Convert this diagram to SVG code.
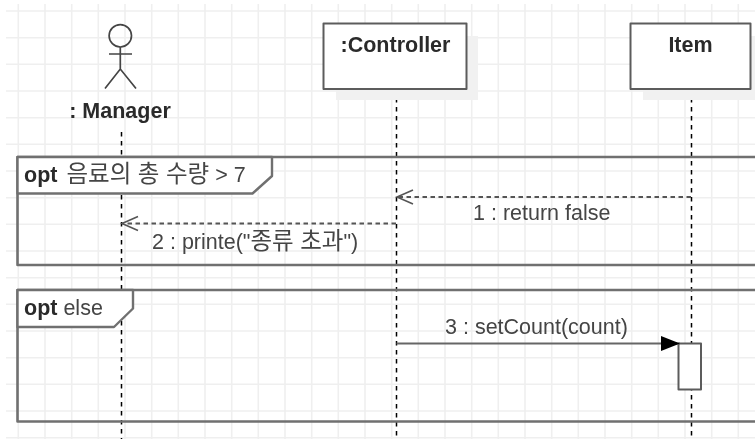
<svg xmlns="http://www.w3.org/2000/svg" width="755" height="439" viewBox="0 0 755 439">
<defs>
<filter id="soft" x="-5%" y="-5%" width="110%" height="110%"><feGaussianBlur stdDeviation="0.42"/></filter>
<marker id="open" markerUnits="userSpaceOnUse" markerWidth="20" markerHeight="18" refX="17" refY="8" orient="auto"><path d="M1 1 L17 8 L1 15" fill="none" stroke="#555" stroke-width="1.6"/></marker>
<marker id="solid" markerUnits="userSpaceOnUse" markerWidth="22" markerHeight="18" refX="20" refY="8" orient="auto"><path d="M1 0.5 L20 8 L1 15.5 Z" fill="#000"/></marker>
</defs>
<style>
text{font-family:"Liberation Sans",Arial,"Noto Sans CJK KR",sans-serif;fill:#444;font-size:21.5px}
.b{font-weight:bold;fill:#2b2b2b}
.k{font-size:23.5px}
.box{fill:#fff;stroke:#5c5c5c;stroke-width:2;stroke-linejoin:round}
.shadow{fill:#f1f1f1}
.frame{fill:none;stroke:#707070;stroke-width:2.6;stroke-linejoin:round}
.tag{fill:#fff;stroke:#707070;stroke-width:2.4;stroke-linejoin:round}
.life{fill:none;stroke:#000;stroke-width:1.5;stroke-dasharray:4.5 4.5}
.ret{fill:none;stroke:#555;stroke-width:2;stroke-dasharray:4.5 3.5}
.call{fill:none;stroke:#666;stroke-width:2}
.stick{fill:none;stroke:#444;stroke-width:1.7}
</style>
<rect width="755" height="439" fill="#fff"/>
<g filter="url(#soft)">
<path id="grid" fill="none" stroke="#efefef" stroke-width="1.6" d="M18.3 4V439M45 4V439M71.7 4V439M98.3 4V439M125 4V439M151.7 4V439M178.3 4V439M205 4V439M231.7 4V439M258.3 4V439M285 4V439M311.7 4V439M338.3 4V439M365 4V439M391.7 4V439M418.3 4V439M445 4V439M471.7 4V439M498.3 4V439M525 4V439M551.7 4V439M578.3 4V439M605 4V439M631.7 4V439M658.3 4V439M685 4V439M711.7 4V439M738.3 4V439M6 11H755M6 37.7H755M6 64.3H755M6 91H755M6 117.7H755M6 144.3H755M6 171H755M6 197.7H755M6 224.3H755M6 251H755M6 277.7H755M6 304.3H755M6 331H755M6 357.7H755M6 384.3H755M6 411H755M6 437.7H755"/>
<g id="connectors">
<path class="life" d="M121.5 132V439"/>
<path class="life" d="M396.5 89V439"/>
<path class="life" d="M691.5 89V439"/>
</g>
<g id="frame-opt-1">
<path class="frame" d="M755 157H17.5V265H755"/>
<path class="tag" d="M17.5 157H272V176L252.500 193.500H17.500Z"/>
<text x="24" y="182"><tspan class="b">opt</tspan> <tspan class="k" dx="3">음료의 총 수량</tspan> &gt; 7</text>
</g>
<g id="frame-opt-2">
<path class="frame" d="M755 290H17.500V421.500H755"/>
<path class="tag" d="M17.500 290H133V308.500L114 327H17.500Z"/>
<text x="24" y="315"><tspan class="b">opt</tspan> else</text>
</g>
<g id="manager">
<circle class="stick" cx="120.300" cy="35.800" r="11.200"/>
<path class="stick" d="M120.300 47V69M109 54H132M105 88.500L120.300 69L136 88.500"/>
<text class="b" x="120" y="118" text-anchor="middle">: Manager</text>
</g>
<g id="controller">
<rect class="shadow" x="336" y="36" width="142" height="64"/>
<rect class="box" x="323.500" y="23.500" width="143" height="65.500"/>
<text class="b" x="395.500" y="52" text-anchor="middle">:Controller</text>
</g>
<g id="item">
<rect class="shadow" x="643" y="36" width="112" height="64"/>
<rect class="box" x="630.500" y="23.500" width="120" height="65.500"/>
<text class="b" x="690.500" y="52" text-anchor="middle">Item</text>
</g>
<g id="activation">
<rect class="box" x="678.500" y="343.500" width="22.500" height="46"/>
</g>
<g id="messages">
<path class="ret" d="M691 197H397" marker-end="url(#open)"/>
<text x="473" y="220">1 : return false</text>
<path class="ret" d="M396 223.500H122" marker-end="url(#open)"/>
<text x="152" y="249">2 : printe("<tspan class="k">종류 초과</tspan>")</text>
<path class="call" d="M396.500 343.500H680" marker-end="url(#solid)"/>
<text x="445" y="334">3 : setCount(count)</text>
</g>
</g>
</svg>
